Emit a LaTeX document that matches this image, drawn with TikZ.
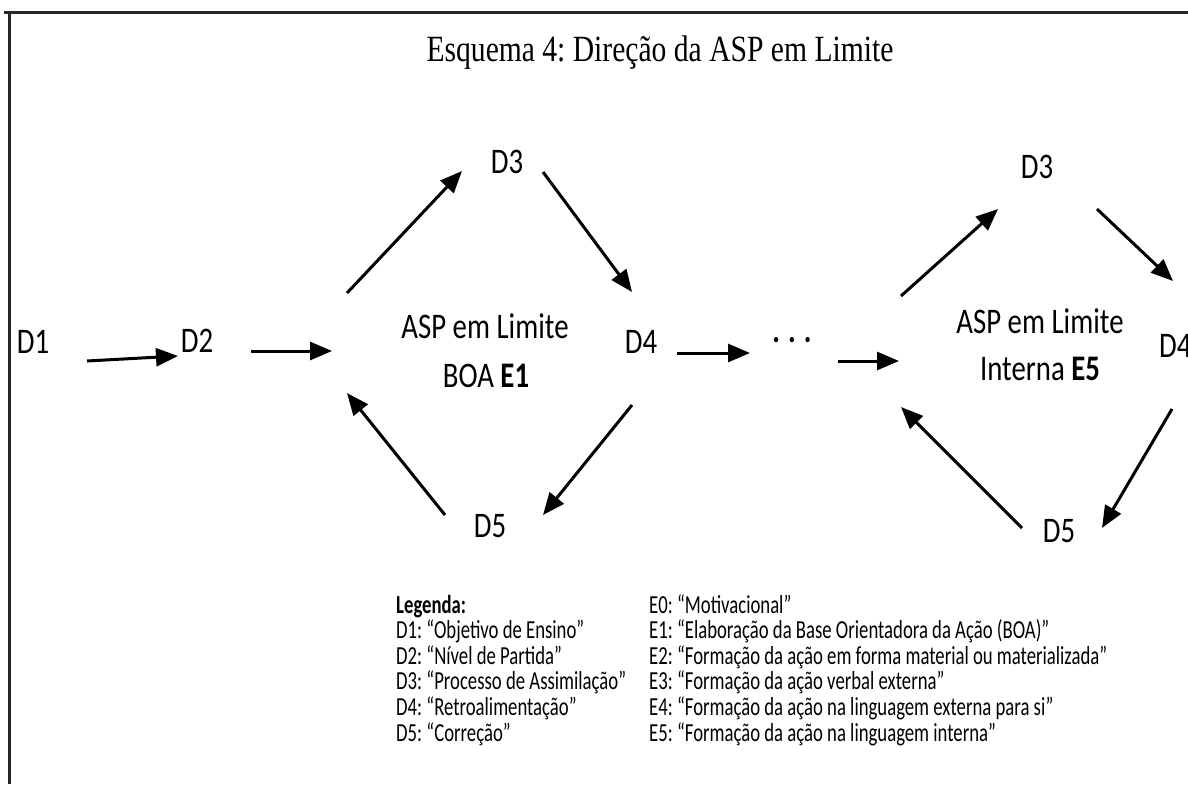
\documentclass[tikz,border=0pt]{standalone}
\usepackage{fontspec}
\setmainfont{Carlito}
\newfontfamily\lblfont[FakeStretch=0.8]{Carlito}
\newfontfamily\legfont[FakeStretch=0.72]{Carlito}
\newfontfamily\ttlfont[FakeStretch=0.8]{Liberation Serif}
\usetikzlibrary{arrows.meta}
\frenchspacing

\begin{document}
\begin{tikzpicture}[x=1pt,y=-1pt,
  lbl/.style={font=\lblfont\fontsize{36}{40}\selectfont, inner sep=0pt, anchor=base},
  legline/.style={font=\legfont\fontsize{26}{30}\selectfont, inner sep=0pt, anchor=base west},
  flow/.style={line width=3pt, -{Triangle[length=22pt,width=18pt]}},
  frameline/.style={line width=3pt, black!85}]
\useasboundingbox (0,0) rectangle (1188,784);

% frame
\draw[frameline] (4,13) -- (1188,13);
\draw[frameline] (9,13) -- (9,784);

% title
\node[font=\ttlfont\fontsize{37}{40}\selectfont, inner sep=0pt, anchor=base] (title) at (660,62) {Esquema 4: Direção da ASP em Limite};

% first loop
\node[lbl] (d1) at (33,353) {D1};
\node[lbl] (d2) at (197,352) {D2};
\node[lbl] (d3a) at (507,173) {D3};
\node[lbl] (d4a) at (641,353) {D4};
\node[lbl] (d5a) at (490,537) {D5};
\node[lbl] (aspa) at (485,338) {ASP em Limite};
\node[lbl] (boa) at (486,387) {BOA \textbf{E1}};

\node[lbl] (dots) at (792,342) {\textbf{.}\hspace{8pt}\textbf{.}\hspace{8pt}\textbf{.}};

% second loop
\node[lbl] (d3b) at (1037,178) {D3};
\node[lbl, anchor=base west] (d4b) at (1159,357) {D4};
\node[lbl] (aspb) at (1040,333) {ASP em Limite};
\node[lbl] (interna) at (1040,380) {Interna \textbf{E5}};
\node[lbl] (d5b) at (1059,542) {D5};

% arrow end points
\coordinate (s1) at (87,361);   \coordinate (t1) at (178,356);
\coordinate (s2) at (251,351);  \coordinate (t2) at (332,351);
\coordinate (s3) at (347,293);  \coordinate (t3) at (462,171);
\coordinate (s4) at (543,172);  \coordinate (t4) at (632,292);
\coordinate (s5) at (632,405);  \coordinate (t5) at (543,515);
\coordinate (s6) at (445,515);  \coordinate (t6) at (347,393);
\coordinate (s7) at (677,353);  \coordinate (t7) at (750,353);
\coordinate (s8) at (838,361);  \coordinate (t8) at (899,361);
\coordinate (s9) at (901,296);  \coordinate (t9) at (998,209);
\coordinate (s10) at (1097,209); \coordinate (t10) at (1173,281);
\coordinate (s11) at (1172,409); \coordinate (t11) at (1102,528);
\coordinate (s12) at (1022,528); \coordinate (t12) at (901,407);

\foreach \i in {1,...,12} \draw[flow] (s\i) -- (t\i);

% legend
\node[legline] (leg) at (396,613) {\textbf{Legenda:}};
\node[legline] (ld1) at (396,638.6) {D1: “Objetivo de Ensino”};
\node[legline] (ld2) at (396,664.2) {D2: “Nível de Partida”};
\node[legline] (ld3) at (396,689.8) {D3: “Processo de Assimilação”};
\node[legline] (ld4) at (396,715.4) {D4: “Retroalimentação”};
\node[legline] (ld5) at (396,741) {D5: “Correção”};

\node[legline] (le0) at (649,613) {E0: “Motivacional”};
\node[legline] (le1) at (649,638.6) {E1: “Elaboração da Base Orientadora da Ação (BOA)”};
\node[legline] (le2) at (649,664.2) {E2: “Formação da ação em forma material ou materializada”};
\node[legline] (le3) at (649,689.8) {E3: “Formação da ação verbal externa”};
\node[legline] (le4) at (649,715.4) {E4: “Formação da ação na linguagem externa para si”};
\node[legline] (le5) at (649,741) {E5: “Formação da ação na linguagem interna”};
\end{tikzpicture}
\end{document}
